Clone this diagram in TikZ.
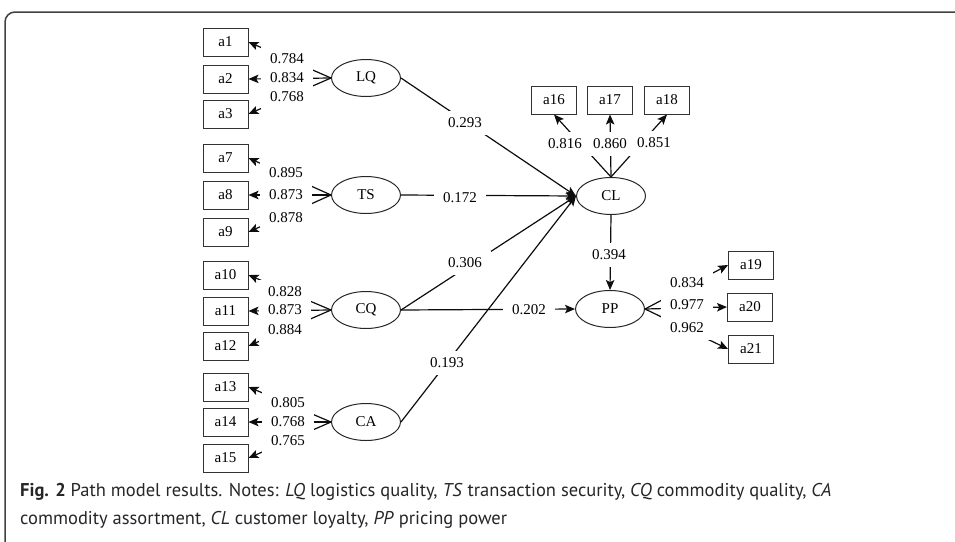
\documentclass[tikz,border=0pt]{standalone}
\usepackage{fontspec}
\setmainfont{Liberation Serif}
\newfontfamily\capfont{PT Sans}
\usetikzlibrary{arrows.meta,shapes.geometric}
\begin{document}
\begin{tikzpicture}[x=1pt,y=-1pt,
  dfont/.style={font=\fontsize{15}{17}\selectfont},
  ind/.style={draw=black!80, line width=1pt, minimum width=45pt, minimum height=28pt, inner sep=0pt, dfont},
  lat/.style={ellipse, draw=black!85, line width=1pt, minimum width=69pt, minimum height=37pt, inner sep=0pt, dfont},
  lbl/.style={fill=white, inner xsep=9pt, inner ysep=7pt, text height=10pt, text depth=0.5pt, dfont},
  arr/.style={line width=1.2pt, draw=black!95, -{Stealth[length=10pt,width=8.5pt,inset=2.2pt]}},
  capt/.style={anchor=base west, inner sep=0pt, font=\capfont\fontsize{18.5}{21}\selectfont, text=black!85},
]
\useasboundingbox (0,0) rectangle (955,541);
% frame
\draw[line width=1.5pt, draw=black!75, rounded corners=10pt] (5,545) -- (5,12) -- (960,12);

% latent variables
\node[lat] (LQ) at (366,78) {LQ};
\node[lat] (TS) at (366,195) {TS};
\node[lat] (CQ) at (366,310) {CQ};
\node[lat] (CA) at (366,422) {CA};
\node[lat] (CL) at (611,196) {CL};
\node[lat] (PP) at (610,309) {PP};

% indicators
\node[ind] (a1) at (225.5,42) {a1};
\node[ind] (a2) at (225.5,79) {a2};
\node[ind] (a3) at (225.5,114) {a3};
\node[ind] (a7) at (225.5,158) {a7};
\node[ind] (a8) at (225.5,195) {a8};
\node[ind] (a9) at (225.5,232) {a9};
\node[ind] (a10) at (225.5,275) {a10};
\node[ind] (a11) at (225.5,311) {a11};
\node[ind] (a12) at (225.5,346) {a12};
\node[ind] (a13) at (225.5,387) {a13};
\node[ind] (a14) at (225.5,422) {a14};
\node[ind] (a15) at (225.5,458) {a15};
\node[ind] (a16) at (554,100) {a16};
\node[ind] (a17) at (610,100) {a17};
\node[ind] (a18) at (667,100) {a18};
\node[ind] (a19) at (751,265) {a19};
\node[ind] (a20) at (750,307) {a20};
\node[ind] (a21) at (751,349) {a21};

% measurement arrows
\foreach \s/\t in {LQ/a1,LQ/a2,LQ/a3,TS/a7,TS/a8,TS/a9,CQ/a10,CQ/a11,CQ/a12,CA/a13,CA/a14,CA/a15}
  \draw[arr] (\s.west) -- (\t.east);
\foreach \t in {a16,a17,a18}
  \draw[arr] (CL.north) -- (\t.south);
\foreach \t in {a19,a20,a21}
  \draw[arr] (PP.east) -- (\t.west);

% structural arrows
\foreach \s in {LQ,TS,CQ,CA}
  \draw[arr] (\s.east) -- (CL.west);
\draw[arr] (CQ.east) -- (PP.west);
\draw[arr] (CL.south) -- (PP.north);

% loading labels
\node[lbl] (l1) at (287,59) {0.784};
\node[lbl] (l2) at (287,78) {0.834};
\node[lbl] (l3) at (287,97) {0.768};
\node[lbl] (l7) at (286,173) {0.895};
\node[lbl] (l8) at (286,195) {0.873};
\node[lbl] (l9) at (286,218) {0.878};
\node[lbl] (l10) at (285,292) {0.828};
\node[lbl] (l11) at (285,310) {0.873};
\node[lbl] (l12) at (285,330) {0.884};
\node[lbl] (l13) at (288,403) {0.805};
\node[lbl] (l14) at (288,422) {0.768};
\node[lbl] (l15) at (288,441) {0.765};
\node[lbl] (l16) at (565,144) {0.816};
\node[lbl] (l17) at (610,144) {0.860};
\node[lbl] (l18) at (654,143) {0.851};
\node[lbl] (l19) at (687,283) {0.834};
\node[lbl] (l20) at (687,305) {0.977};
\node[lbl] (l21) at (687,328) {0.962};

% path labels
\node[lbl] (p1) at (465,123) {0.293};
\node[lbl] (p2) at (460,198) {0.172};
\node[lbl] (p3) at (465,263) {0.306};
\node[lbl] (p4) at (447,363) {0.193};
\node[lbl] (p5) at (529,310) {0.202};
\node[lbl] (p6) at (609,255) {0.394};

% caption
\node[capt] (cap1) at (20,496) {\textbf{Fig. 2} Path model results. Notes: \textit{LQ} logistics quality, \textit{TS} transaction security, \textit{CQ} commodity quality, \textit{CA}};
\node[capt] (cap2) at (20,524) {commodity assortment, \textit{CL} customer loyalty, \textit{PP} pricing power};
\end{tikzpicture}
\end{document}
